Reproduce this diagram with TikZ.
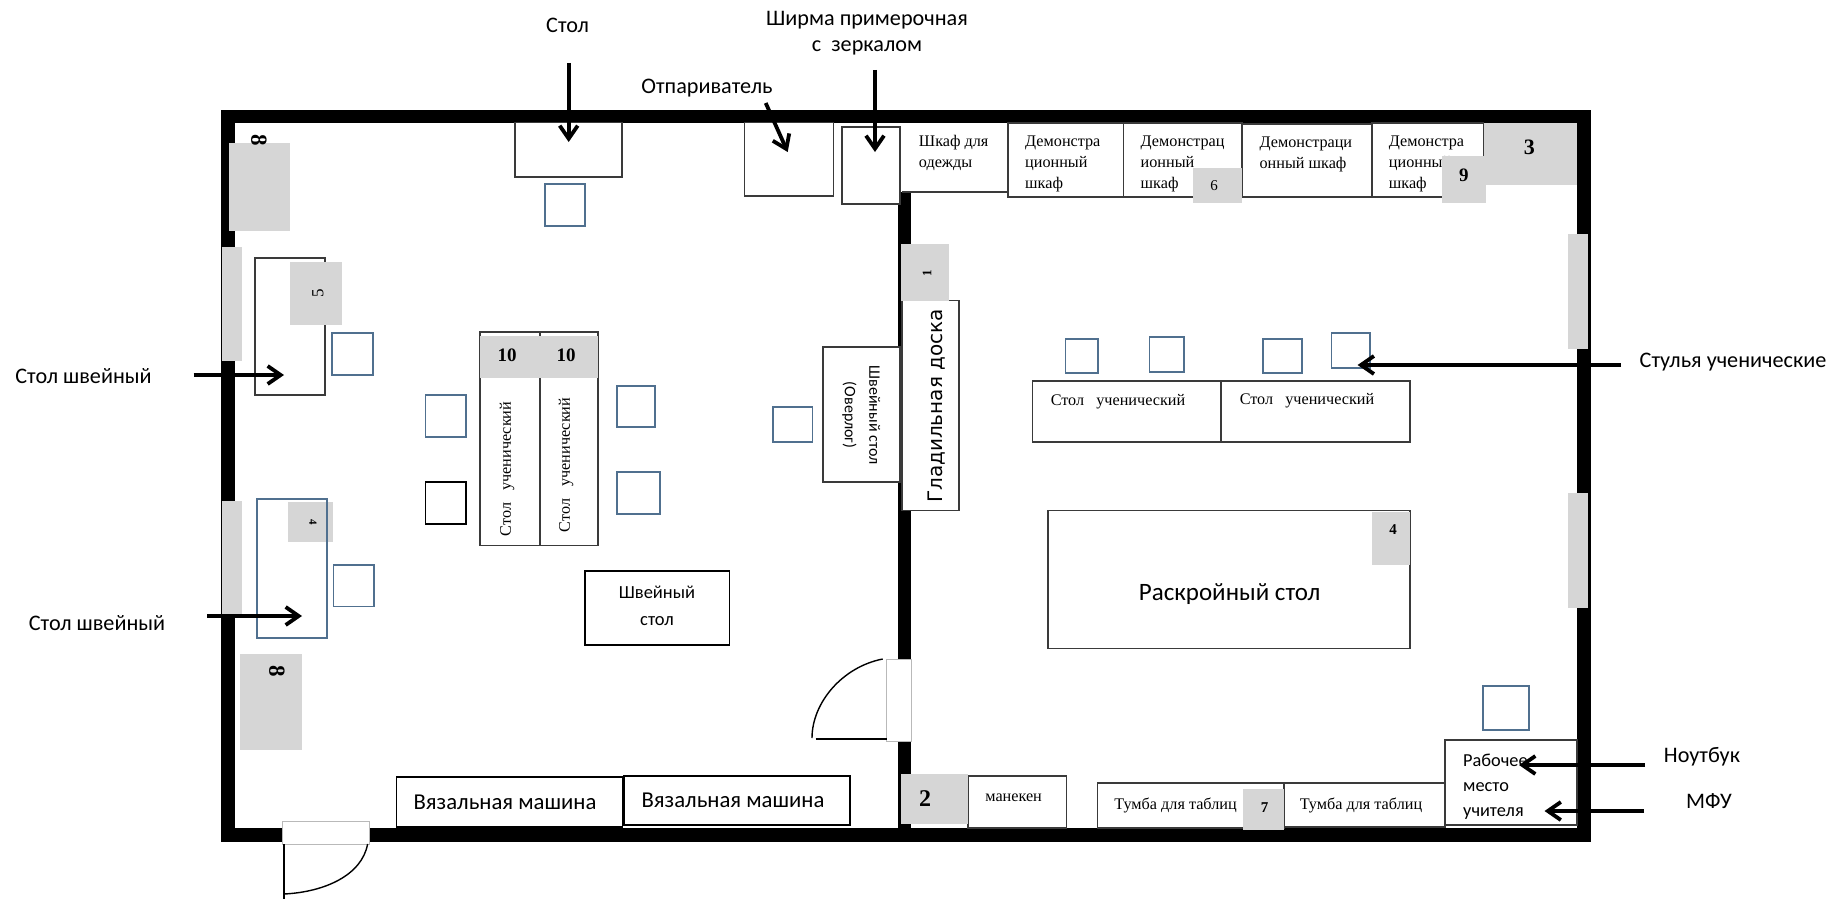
\documentclass[tikz,border=0pt]{standalone}
\usepackage{fontspec}
\setmainfont{Liberation Serif}
\newfontfamily\calf{Carlito}
\newfontfamily\dejf{DejaVu Sans}
\usetikzlibrary{arrows.meta}
\definecolor{chairc}{HTML}{50708F}
\definecolor{grayc}{HTML}{D6D6D6}
\definecolor{linec}{HTML}{3A3A3A}
\newcommand{\rbox}[7][]{\node[#2,minimum width={#5-#3},minimum height={#6-#4},#1] (#7) at ({(#3+#5)/2},{(#4+#6)/2}) {};}
\newcommand{\fs}[2]{\fontsize{#1}{#2}\selectfont}
\tikzset{
  wallbox/.style={fill=black,draw=none,inner sep=0,outer sep=0},
  floorbox/.style={fill=white,draw=none,inner sep=0,outer sep=0},
  windowbox/.style={fill=grayc,draw=none,inner sep=0,outer sep=0},
  graybox/.style={fill=grayc,draw=none,inner sep=0,outer sep=0},
  doorbox/.style={fill=white,draw=gray!55,line width=1pt,inner sep=0,outer sep=0},
  itemline/.style={draw=linec,line width=1.2pt},
  itembox/.style={fill=white,itemline,inner sep=0,outer sep=0},
  heavybox/.style={fill=white,draw=black,line width=1.6pt,inner sep=0,outer sep=0},
  chairbox/.style={draw=chairc,line width=1.2pt,inner sep=0,outer sep=0},
  outlabel/.style={inner sep=0,font=\calf\fs{22.2}{26}},
  serif/.style={inner sep=0,font=\fs{16.2}{21},align=left},
  inbox/.style={inner sep=0,font=\calf\fs{18.3}{25},align=center},
  num/.style={inner sep=0,font=\bfseries\fs{19}{21}},
  arr/.style={line width=3.8pt,-{Straight Barb[length=13pt,width=18pt,line width=3.8pt]}},
  doorline/.style={line width=1.4pt,draw=black},
}
\begin{document}
\begin{tikzpicture}[x=1pt,y=-1pt]
\useasboundingbox (0,0) rectangle (1839,899);
% walls
\rbox{wallbox}{221}{109.5}{1591}{842}{wallouter}
\rbox{floorbox}{235}{122.7}{1577}{828}{floorinner}
\rbox{wallbox}{898}{192}{911}{830}{wallmiddle}
% windows
\rbox{windowbox}{222}{247}{242}{361}{winA}
\rbox{windowbox}{222}{500.7}{242}{614}{winB}
\rbox{windowbox}{1568}{234}{1588}{349}{winC}
\rbox{windowbox}{1568}{493}{1588}{608}{winD}
% doors
\rbox{doorbox}{886.6}{659}{911}{741.7}{doorMiddle}
\rbox{doorbox}{282}{821}{369}{844}{doorBottom}
\coordinate (dmA) at (882.7,659);
\coordinate (dmB) at (812,738);
\coordinate (dmC) at (815.7,739);
\draw[doorline] (dmA) .. controls (842,667) and (812,703) .. (dmB);
\draw[doorline] (dmC) -- (doorMiddle.west |- dmC);
\coordinate (dbA) at (367.6,844);
\coordinate (dbB) at (284,894);
\coordinate (dbC) at (284,899);
\draw[doorline] (dbA) .. controls (362,875) and (325,892) .. (dbB);
\draw[doorline] (doorBottom.south west -| dbB) -- (dbC);
% left room items
\rbox{graybox}{228.5}{143}{290}{231}{grayEightA}
\node[inner sep=0,font=\bfseries\fs{23}{23},rotate=-90] (numEightA) at (259,140) {8};
\rbox{itembox}{255}{258}{325}{395}{sewTableA}
\rbox{graybox}{289.5}{262}{342}{325}{grayFive}
\node[inner sep=0,font=\fs{17}{17},rotate=90] (numFive) at (318,293) {5};
\rbox{chairbox}{332}{333}{373}{375}{chairA}
\rbox{itembox}{515}{122.7}{622}{177}{tableTop}
\rbox{chairbox}{545}{184}{585}{226}{chairB}
\rbox{itembox}{744.5}{122.7}{833.6}{196}{steamer}
\rbox{itembox}{842}{127}{900}{204}{screenBox}
\rbox{itembox}{480}{332}{540}{545.7}{stTableA}
\rbox{itembox}{540}{332}{598}{545.7}{stTableB}
\rbox{graybox}{480}{336}{598}{378}{grayTen}
\node[num] (tenA) at (507,355) {10};
\node[num] (tenB) at (566,355) {10};
\node[serif,rotate=90] (stTextA) at (507,469) {Стол\ \ \ ученический};
\node[serif,rotate=90] (stTextB) at (566,465) {Стол\ \ \ ученический};
\rbox{chairbox}{425.4}{395}{466}{437}{chairC}
\rbox[draw=black]{chairbox}{425.4}{482}{466}{524}{chairD}
\rbox{chairbox}{617}{386}{655}{427}{chairE}
\rbox{chairbox}{617}{472}{660}{514}{chairF}
\rbox{chairbox}{773}{407}{812.5}{442}{chairG}
\rbox{itembox}{823}{347}{900}{482}{overlock}
\node[inbox,font=\calf\fs{16}{20},rotate=-90] (overA) at (874.6,415) {Швейный стол};
\node[inbox,font=\calf\fs{16}{20},rotate=-90] (overB) at (849.4,415) {(Оверлог)};
\rbox{graybox}{288}{502}{333}{542}{grayFour}
\node[inner sep=0,font=\bfseries\fs{11}{11},rotate=-90] (numFour) at (313,522) {4};
\rbox[draw=chairc,line width=1.2pt]{chairbox}{257}{499}{327}{638}{sewTableB}
\rbox{chairbox}{333.6}{565}{374}{606.7}{chairH}
\rbox{graybox}{240}{653.7}{301.5}{749.7}{grayEightB}
\node[inner sep=0,font=\bfseries\fs{23}{23},rotate=-90] (numEightB) at (277,671.7) {8};
\rbox{heavybox}{584.8}{571}{729.4}{644.7}{sewTableC}
\node[inbox,font=\calf\fs{18.5}{26.5}] (sewC) at (657,606) {Швейный\\стол};
\rbox{heavybox}{396.5}{777}{622.4}{827}{knitA}
\node[inner sep=0,font=\calf\fs{22.7}{24}] (knitAtext) at (505,802.7) {Вязальная машина};
\rbox{heavybox}{624}{775.7}{850}{825}{knitB}
\node[inner sep=0,font=\calf\fs{22.7}{24}] (knitBtext) at (733,800.5) {Вязальная машина};
% top-right cabinets
\rbox[draw=none]{itembox}{902}{123}{1008}{192}{cabA}
\draw[itemline] (cabA.south west) -- (cabA.south east) -- (cabA.north east);
\rbox{itembox}{1008}{123}{1123.5}{197}{cabB}
\rbox{itembox}{1123.5}{123}{1242}{197}{cabC}
\rbox{itembox}{1242}{124}{1372}{197}{cabD}
\rbox{itembox}{1372}{123}{1483.6}{197}{cabE}
\node[serif,anchor=north west] (cabAt) at (918.7,135.5) {Шкаф для\\одежды};
\node[serif,anchor=north west] (cabBt) at (1025,135.5) {Демонстра\\ционный\\шкаф};
\node[serif,anchor=north west] (cabCt) at (1140.5,135.5) {Демонстрац\\ионный\\шкаф};
\node[serif,anchor=north west] (cabDt) at (1259.4,137) {Демонстраци\\онный шкаф};
\node[serif,anchor=north west] (cabEt) at (1388.7,135.5) {Демонстра\\ционный\\шкаф};
\rbox{graybox}{1483.6}{123}{1577}{185}{grayThree}
\rbox{graybox}{1441.6}{156}{1485.5}{203}{grayNine}
\rbox{graybox}{1193}{168}{1242}{203}{graySix}
\node[inner sep=0,font=\bfseries\fs{22}{22}] (numThree) at (1529.4,147.3) {3};
\node[num] (numNine) at (1463.8,175) {9};
\node[inner sep=0,font=\fs{15}{15}] (numSix) at (1214,186) {6};
% board
\rbox{itembox}{902}{300.7}{959}{510.7}{board}
\rbox{graybox}{901}{244}{949}{301}{grayOne}
\node[inner sep=0,font=\bfseries\fs{13}{13},rotate=90] (numOne) at (927,273) {1};
\node[inner sep=0,font=\dejf\fs{20}{22},rotate=90] (boardText) at (937,406) {Гладильная доска};
% right room
\rbox{chairbox}{1065.5}{339}{1098}{373}{chairI}
\rbox{chairbox}{1149.5}{337}{1184}{372}{chairJ}
\rbox{chairbox}{1263}{339}{1302}{373}{chairK}
\rbox{chairbox}{1331.6}{333}{1370}{368}{chairL}
\rbox{itembox}{1032.4}{381}{1221}{442}{hTableA}
\rbox{itembox}{1221}{381}{1410}{442}{hTableB}
\node[serif] (hTextA) at (1118,401.7) {Стол\ \ \ ученический};
\node[serif] (hTextB) at (1307,401) {Стол\ \ \ ученический};
\rbox{itembox}{1048}{510.7}{1410}{648.7}{cutTable}
\rbox{graybox}{1372}{511.5}{1410}{564.7}{grayFourB}
\node[inner sep=0,font=\bfseries\fs{15}{15}] (numFourB) at (1393,530) {4};
\node[inner sep=0,font=\calf\fs{25}{27}] (cutText) at (1229.6,594) {Раскройный стол};
\rbox{chairbox}{1483}{686}{1529}{730}{chairM}
\rbox{itembox}{1097.5}{783}{1284}{828}{drawerA}
\rbox{itembox}{1284}{783}{1445}{827}{drawerB}
\node[serif] (drawerAt) at (1175.6,805) {Тумба для таблиц};
\node[serif] (drawerBt) at (1361,805) {Тумба для таблиц};
\rbox{graybox}{1243}{788.7}{1284.4}{830}{graySeven}
\node[inner sep=0,font=\bfseries\fs{15}{15}] (numSeven) at (1264.6,807.7) {7};
\rbox{itembox}{968}{776}{1066.4}{828}{manikin}
\node[serif] (manikinT) at (1013.6,798) {манекен};
\rbox{graybox}{901}{774}{968}{824}{grayTwo}
\node[inner sep=0,font=\bfseries\fs{24}{24}] (numTwo) at (925,799) {2};
\rbox{itembox}{1445}{740}{1577}{825}{teacher}
\node[inbox,align=left,anchor=north west] (teacherT) at (1463,754) {Рабочее\\место\\учителя};
% outer labels
\node[outlabel] (lStol) at (567.6,25) {Стол};
\node[outlabel,align=center] (lShirma) at (867,33.5) {Ширма примерочная\\с\ \ зеркалом};
\node[outlabel] (lPar) at (707,88) {Отпариватель};
\node[outlabel] (lSewA) at (83.5,376) {Стол швейный};
\node[outlabel] (lSewB) at (97,622.6) {Стол швейный};
\node[outlabel] (lChairs) at (1733,362) {Стулья ученические};
\node[outlabel] (lNote) at (1702,756.5) {Ноутбук};
\node[outlabel] (lMfu) at (1709,801) {МФУ};
% arrows
\coordinate (a1s) at (568.7,63);   \coordinate (a1t) at (568.7,142);
\coordinate (a2s) at (765.7,103);  \coordinate (a2t) at (787.7,152);
\coordinate (a3s) at (875,70);     \coordinate (a3t) at (875,152);
\coordinate (a4s) at (193.5,375);  \coordinate (a4t) at (284,375);
\coordinate (a5s) at (207,616);    \coordinate (a5t) at (302,616);
\coordinate (a6s) at (1621,365);   \coordinate (a6t) at (1357.6,365);
\coordinate (a7s) at (1645,765);   \coordinate (a7t) at (1519,765);
\coordinate (a8s) at (1644,811);   \coordinate (a8t) at (1544.5,811);
\foreach \n in {1,...,8} {\draw[arr] (a\n s) -- (a\n t);}
\end{tikzpicture}
\end{document}
